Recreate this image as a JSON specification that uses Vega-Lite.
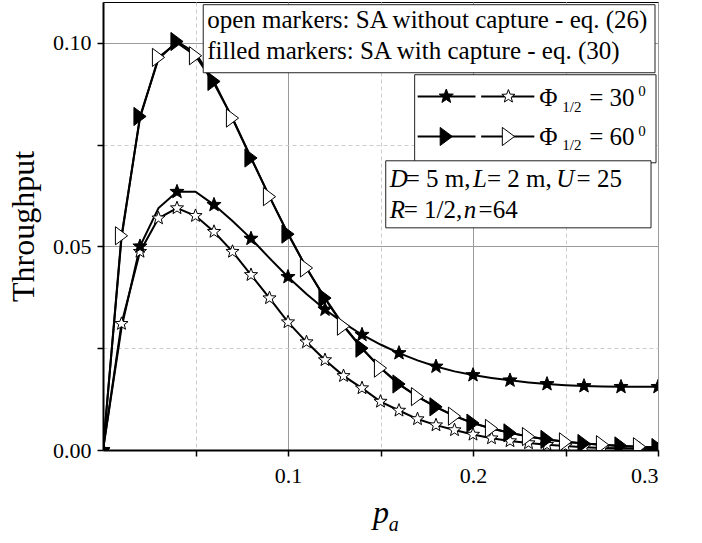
{
 "$schema": "https://vega.github.io/schema/vega-lite/v6.json",
 "width": 555, "height": 448,
 "autosize": {"type": "none"},
 "padding": {"left": 103, "top": 2, "right": 44, "bottom": 93},
 "background": "white",
 "config": {
  "view": {"stroke": "black", "strokeWidth": 1},
  "font": "Liberation Serif",
  "text": {"font": "Liberation Serif", "color": "black"},
  "axis": {"labelFont": "Liberation Serif", "titleFont": "Liberation Serif", "labelColor": "black", "titleColor": "black", "domainColor": "black", "domainWidth": 2, "tickColor": "black", "tickWidth": 1.5, "tickSize": 6, "labelFontSize": 22, "titleFontSize": 32, "titleFontWeight": "normal"}
 },
 "data": {"values": [
   {"p":0.00,"T":0,"s":"A"},{"p":0.01,"T":0.030,"s":"A"},{"p":0.02,"T":0.0500,"s":"A"},{"p":0.03,"T":0.0594,"s":"A"},{"p":0.04,"T":0.0634,"s":"A"},{"p":0.05,"T":0.0634,"s":"A"},{"p":0.06,"T":0.0602,"s":"A"},{"p":0.07,"T":0.0562,"s":"A"},{"p":0.08,"T":0.0519,"s":"A"},{"p":0.09,"T":0.0471,"s":"A"},{"p":0.10,"T":0.0425,"s":"A"},{"p":0.11,"T":0.0383,"s":"A"},{"p":0.12,"T":0.0345,"s":"A"},{"p":0.13,"T":0.0312,"s":"A"},{"p":0.14,"T":0.0283,"s":"A"},{"p":0.15,"T":0.0259,"s":"A"},{"p":0.16,"T":0.0238,"s":"A"},{"p":0.17,"T":0.0220,"s":"A"},{"p":0.18,"T":0.0205,"s":"A"},{"p":0.19,"T":0.0193,"s":"A"},{"p":0.20,"T":0.0184,"s":"A"},{"p":0.21,"T":0.0177,"s":"A"},{"p":0.22,"T":0.0171,"s":"A"},{"p":0.23,"T":0.0166,"s":"A"},{"p":0.24,"T":0.0162,"s":"A"},{"p":0.25,"T":0.0159,"s":"A"},{"p":0.26,"T":0.0157,"s":"A"},{"p":0.27,"T":0.0156,"s":"A"},{"p":0.28,"T":0.0155,"s":"A"},{"p":0.29,"T":0.0155,"s":"A"},{"p":0.30,"T":0.0155,"s":"A"},
   {"p":0.00,"T":0,"s":"B"},{"p":0.01,"T":0.031,"s":"B"},{"p":0.02,"T":0.0487,"s":"B"},{"p":0.03,"T":0.0569,"s":"B"},{"p":0.04,"T":0.0594,"s":"B"},{"p":0.05,"T":0.0575,"s":"B"},{"p":0.06,"T":0.0536,"s":"B"},{"p":0.07,"T":0.0487,"s":"B"},{"p":0.08,"T":0.0430,"s":"B"},{"p":0.09,"T":0.0373,"s":"B"},{"p":0.10,"T":0.0314,"s":"B"},{"p":0.11,"T":0.0265,"s":"B"},{"p":0.12,"T":0.0221,"s":"B"},{"p":0.13,"T":0.0182,"s":"B"},{"p":0.14,"T":0.0152,"s":"B"},{"p":0.15,"T":0.0119,"s":"B"},{"p":0.16,"T":0.0097,"s":"B"},{"p":0.17,"T":0.0076,"s":"B"},{"p":0.18,"T":0.0061,"s":"B"},{"p":0.19,"T":0.0049,"s":"B"},{"p":0.20,"T":0.0038,"s":"B"},{"p":0.21,"T":0.0029,"s":"B"},{"p":0.22,"T":0.0022,"s":"B"},{"p":0.23,"T":0.0017,"s":"B"},{"p":0.24,"T":0.0013,"s":"B"},{"p":0.25,"T":0.0010,"s":"B"},{"p":0.26,"T":0.0007,"s":"B"},{"p":0.27,"T":0.0005,"s":"B"},{"p":0.28,"T":0.0004,"s":"B"},{"p":0.29,"T":0.0003,"s":"B"},{"p":0.30,"T":0.0002,"s":"B"},
   {"p":0.00,"T":0,"s":"C"},{"p":0.01,"T":0.052,"s":"C"},{"p":0.02,"T":0.0819,"s":"C"},{"p":0.03,"T":0.0960,"s":"C"},{"p":0.04,"T":0.1003,"s":"C"},{"p":0.05,"T":0.0975,"s":"C"},{"p":0.06,"T":0.0905,"s":"C"},{"p":0.07,"T":0.0813,"s":"C"},{"p":0.08,"T":0.0717,"s":"C"},{"p":0.09,"T":0.0622,"s":"C"},{"p":0.10,"T":0.0530,"s":"C"},{"p":0.11,"T":0.0447,"s":"C"},{"p":0.12,"T":0.0373,"s":"C"},{"p":0.13,"T":0.0306,"s":"C"},{"p":0.14,"T":0.0250,"s":"C"},{"p":0.15,"T":0.0202,"s":"C"},{"p":0.16,"T":0.0162,"s":"C"},{"p":0.17,"T":0.0131,"s":"C"},{"p":0.18,"T":0.0106,"s":"C"},{"p":0.19,"T":0.0084,"s":"C"},{"p":0.20,"T":0.0066,"s":"C"},{"p":0.21,"T":0.0053,"s":"C"},{"p":0.22,"T":0.0042,"s":"C"},{"p":0.23,"T":0.0033,"s":"C"},{"p":0.24,"T":0.0026,"s":"C"},{"p":0.25,"T":0.0020,"s":"C"},{"p":0.26,"T":0.0016,"s":"C"},{"p":0.27,"T":0.0013,"s":"C"},{"p":0.28,"T":0.0010,"s":"C"},{"p":0.29,"T":0.0008,"s":"C"},{"p":0.30,"T":0.0006,"s":"C"},
   {"p":0.00,"T":0,"s":"D"},{"p":0.01,"T":0.0526,"s":"D"},{"p":0.02,"T":0.0815,"s":"D"},{"p":0.03,"T":0.0964,"s":"D"},{"p":0.04,"T":0.1000,"s":"D"},{"p":0.05,"T":0.0968,"s":"D"},{"p":0.06,"T":0.0900,"s":"D"},{"p":0.07,"T":0.0815,"s":"D"},{"p":0.08,"T":0.0718,"s":"D"},{"p":0.09,"T":0.0622,"s":"D"},{"p":0.10,"T":0.0532,"s":"D"},{"p":0.11,"T":0.0447,"s":"D"},{"p":0.12,"T":0.0372,"s":"D"},{"p":0.13,"T":0.0304,"s":"D"},{"p":0.14,"T":0.0249,"s":"D"},{"p":0.15,"T":0.0201,"s":"D"},{"p":0.16,"T":0.0161,"s":"D"},{"p":0.17,"T":0.0131,"s":"D"},{"p":0.18,"T":0.0105,"s":"D"},{"p":0.19,"T":0.0083,"s":"D"},{"p":0.20,"T":0.0066,"s":"D"},{"p":0.21,"T":0.0053,"s":"D"},{"p":0.22,"T":0.0042,"s":"D"},{"p":0.23,"T":0.0033,"s":"D"},{"p":0.24,"T":0.0026,"s":"D"},{"p":0.25,"T":0.0020,"s":"D"},{"p":0.26,"T":0.0016,"s":"D"},{"p":0.27,"T":0.0013,"s":"D"},{"p":0.28,"T":0.0010,"s":"D"},{"p":0.29,"T":0.0008,"s":"D"},{"p":0.30,"T":0.0006,"s":"D"}
  ]},
 "encoding": {
  "x": {"field": "p", "type": "quantitative", "title": "p", "scale": {"domain": [0, 0.3], "nice": false},
   "axis": {"values": [0.05, 0.1, 0.15, 0.2, 0.25, 0.3], "labelExpr": "round(datum.value*100) % 10 == 0 ? format(datum.value, '.1f') : ''", "grid": true,
    "gridColor": {"condition": {"test": "round(datum.value*100) % 10 == 5", "value": "#cccccc"}, "value": "#9a9a9a"},
    "gridDash": {"condition": {"test": "round(datum.value*100) % 10 == 5", "value": [4, 3]}, "value": []},
    "labelPadding": 9, "titleFontStyle": "italic", "titlePadding": 11}},
  "y": {"field": "T", "type": "quantitative", "title": "Throughput", "scale": {"domain": [0, 0.11], "nice": false},
   "axis": {"values": [0, 0.025, 0.05, 0.075, 0.1], "labelExpr": "round(datum.value*1000) % 50 == 25 ? '' : format(datum.value, '.2f')", "grid": true,
    "gridColor": {"condition": {"test": "round(datum.value*1000) % 50 == 25", "value": "#cccccc"}, "value": "#9a9a9a"},
    "gridDash": {"condition": {"test": "round(datum.value*1000) % 50 == 25", "value": [4, 3]}, "value": []},
    "labelPadding": 6, "titlePadding": 12}}
 },
 "layer": [
  {"mark": {"type": "line", "color": "black", "strokeWidth": 2, "clip": true}, "encoding": {"detail": {"field": "s", "type": "nominal"}}},
  {"transform": [{"filter": "datum.s == 'B'"}], "mark": {"type": "point", "shape": "M0,-1L0.2469,-0.3398L0.9511,-0.309L0.3995,0.1298L0.5878,0.809L0,0.42L-0.5878,0.809L-0.3995,0.1298L-0.9511,-0.309L-0.2469,-0.3398Z", "size": 190, "filled": true, "fill": "white", "stroke": "black", "strokeWidth": 1, "opacity": 1, "clip": true}},
  {"transform": [{"filter": "datum.s == 'A' && round(datum.p*100) % 2 == 0"}], "mark": {"type": "point", "shape": "M0,-1L0.2469,-0.3398L0.9511,-0.309L0.3995,0.1298L0.5878,0.809L0,0.42L-0.5878,0.809L-0.3995,0.1298L-0.9511,-0.309L-0.2469,-0.3398Z", "size": 220, "filled": true, "fill": "black", "stroke": "black", "strokeWidth": 1, "opacity": 1, "clip": true}},
  {"transform": [{"filter": "datum.s == 'D' && round(datum.p*100) % 2 == 1"}], "mark": {"type": "point", "shape": "M-0.67,-1L0.67,0L-0.67,1Z", "size": 330, "filled": true, "fill": "white", "stroke": "black", "strokeWidth": 1, "opacity": 1, "clip": true}},
  {"transform": [{"filter": "datum.s == 'C' && round(datum.p*100) % 2 == 0"}], "mark": {"type": "point", "shape": "M-0.67,-1L0.67,0L-0.67,1Z", "size": 330, "filled": true, "fill": "black", "stroke": "black", "strokeWidth": 1, "opacity": 1, "clip": true}},

  {"data": {"values": [{"ax": 0.05418, "ax2": 0.29838, "ay": 0.10934, "ay2": 0.09263}, {"ax": 0.16846, "ax2": 0.29892, "ay": 0.09214, "ay2": 0.07052}, {"ax": 0.15283, "ax2": 0.29623, "ay": 0.07101, "ay2": 0.05455}]},
   "mark": {"type": "rect", "fill": "white", "stroke": "#222222", "strokeWidth": 1},
   "encoding": {"x": {"field": "ax", "type": "quantitative", "title": "p"}, "x2": {"field": "ax2"}, "y": {"field": "ay", "type": "quantitative", "title": "Throughput"}, "y2": {"field": "ay2"}}},

  {"data": {"values": [{"ax": 0.17008, "ax2": 0.20135, "ay": 0.08681}, {"ax": 0.20442, "ax2": 0.23315, "ay": 0.08681}, {"ax": 0.17008, "ax2": 0.20135, "ay": 0.07698}, {"ax": 0.20442, "ax2": 0.23315, "ay": 0.07698}]},
   "mark": {"type": "rule", "color": "black", "strokeWidth": 2},
   "encoding": {"x": {"field": "ax", "type": "quantitative", "title": "p"}, "x2": {"field": "ax2"}, "y": {"field": "ay", "type": "quantitative", "title": "Throughput"}}},

  {"data": {"values": [{"ax": 0.18555, "ay": 0.08681}]}, "mark": {"type": "point", "shape": "M0,-1L0.2469,-0.3398L0.9511,-0.309L0.3995,0.1298L0.5878,0.809L0,0.42L-0.5878,0.809L-0.3995,0.1298L-0.9511,-0.309L-0.2469,-0.3398Z", "size": 220, "filled": true, "fill": "black", "stroke": "black", "strokeWidth": 1, "opacity": 1}, "encoding": {"x": {"field": "ax", "type": "quantitative", "title": "p"}, "y": {"field": "ay", "type": "quantitative", "title": "Throughput"}}},
  {"data": {"values": [{"ax": 0.21914, "ay": 0.08681}]}, "mark": {"type": "point", "shape": "M0,-1L0.2469,-0.3398L0.9511,-0.309L0.3995,0.1298L0.5878,0.809L0,0.42L-0.5878,0.809L-0.3995,0.1298L-0.9511,-0.309L-0.2469,-0.3398Z", "size": 190, "filled": true, "fill": "white", "stroke": "black", "strokeWidth": 1, "opacity": 1}, "encoding": {"x": {"field": "ax", "type": "quantitative", "title": "p"}, "y": {"field": "ay", "type": "quantitative", "title": "Throughput"}}},
  {"data": {"values": [{"ax": 0.18555, "ay": 0.07698}]}, "mark": {"type": "point", "shape": "M-0.67,-1L0.67,0L-0.67,1Z", "size": 330, "filled": true, "fill": "black", "stroke": "black", "strokeWidth": 1, "opacity": 1}, "encoding": {"x": {"field": "ax", "type": "quantitative", "title": "p"}, "y": {"field": "ay", "type": "quantitative", "title": "Throughput"}}},
  {"data": {"values": [{"ax": 0.21914, "ay": 0.07698}]}, "mark": {"type": "point", "shape": "M-0.67,-1L0.67,0L-0.67,1Z", "size": 330, "filled": true, "fill": "white", "stroke": "black", "strokeWidth": 1, "opacity": 1}, "encoding": {"x": {"field": "ax", "type": "quantitative", "title": "p"}, "y": {"field": "ay", "type": "quantitative", "title": "Throughput"}}},

  {"data": {"values": [
    {"t": "open markers: SA without capture - eq. (26)", "ax": 0.05633, "ay": 0.10361},
    {"t": "filled markers: SA with capture - eq. (30)", "ax": 0.05633, "ay": 0.09599},
    {"t": "Φ", "ax": 0.23585, "ay": 0.08452},
    {"t": "= 30", "ax": 0.2628, "ay": 0.08452},
    {"t": "Φ", "ax": 0.23585, "ay": 0.07494},
    {"t": "= 60", "ax": 0.2628, "ay": 0.07494},
    {"t": "= 5 m,", "ax": 0.1636, "ay": 0.06469},
    {"t": "= 2 m,", "ax": 0.2075, "ay": 0.06469},
    {"t": "= 25", "ax": 0.256, "ay": 0.06469},
    {"t": "= 1/2,", "ax": 0.1625, "ay": 0.05693},
    {"t": "=64", "ax": 0.203, "ay": 0.05693}]},
   "mark": {"type": "text", "align": "left", "baseline": "alphabetic", "fontSize": 25, "font": "Liberation Serif", "color": "black"},
   "encoding": {"x": {"field": "ax", "type": "quantitative", "title": "p"}, "y": {"field": "ay", "type": "quantitative", "title": "Throughput"}, "text": {"field": "t"}}},

  {"data": {"values": [
    {"t": "D", "ax": 0.15499, "ay": 0.06469},
    {"t": "L", "ax": 0.2, "ay": 0.06469},
    {"t": "U", "ax": 0.245, "ay": 0.06469},
    {"t": "R", "ax": 0.15499, "ay": 0.05693},
    {"t": "n", "ax": 0.195, "ay": 0.05693}]},
   "mark": {"type": "text", "align": "left", "baseline": "alphabetic", "fontSize": 25, "fontStyle": "italic", "font": "Liberation Serif", "color": "black"},
   "encoding": {"x": {"field": "ax", "type": "quantitative", "title": "p"}, "y": {"field": "ay", "type": "quantitative", "title": "Throughput"}, "text": {"field": "t"}}},

  {"data": {"values": [
    {"t": "1/2", "ax": 0.24825, "ay": 0.08305},
    {"t": "0", "ax": 0.28938, "ay": 0.08681},
    {"t": "1/2", "ax": 0.24825, "ay": 0.07354},
    {"t": "0", "ax": 0.28938, "ay": 0.07698}]},
   "mark": {"type": "text", "align": "left", "baseline": "alphabetic", "fontSize": 15, "font": "Liberation Serif", "color": "black"},
   "encoding": {"x": {"field": "ax", "type": "quantitative", "title": "p"}, "y": {"field": "ay", "type": "quantitative", "title": "Throughput"}, "text": {"field": "t"}}},

  {"data": {"values": [{"t": "a", "ax": 0.1545, "ay": -0.0199}]},
   "mark": {"type": "text", "align": "left", "baseline": "alphabetic", "fontSize": 20, "fontStyle": "italic", "font": "Liberation Serif", "color": "black"},
   "encoding": {"x": {"field": "ax", "type": "quantitative", "title": "p"}, "y": {"field": "ay", "type": "quantitative", "title": "Throughput"}, "text": {"field": "t"}}}
 ]
}
